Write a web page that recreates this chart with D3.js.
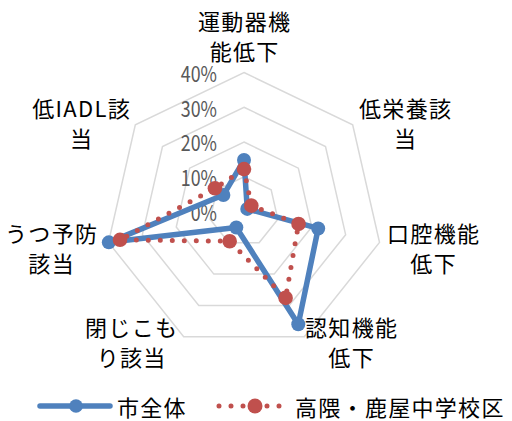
<!DOCTYPE html>
<html>
<head>
<meta charset="utf-8">
<script src="https://cdn.jsdelivr.net/npm/d3@7"></script>
<style>
  html, body { margin: 0; padding: 0; background: #fff; }
  svg { display: block; }
  text { font-family: "Noto Sans CJK JP", "Noto Sans", sans-serif; }
</style>
</head>
<body>
<svg id="chart" width="512" height="421"></svg>
<script>
// Axis labels (each split into two lines), clockwise from the top
const categories = [
  ["運動器機", "能低下"],
  ["低栄養該", "当"],
  ["口腔機能", "低下"],
  ["認知機能", "低下"],
  ["閉じこも", "り該当"],
  ["うつ予防", "該当"],
  ["低IADL該", "当"]
];
// Rates in percent
const cityValues = [14.8, 1.2, 21.9, 36.0, 5.1, 39.9, 7.6];
const districtValues = [12.2, 2.7, 16.1, 27.6, 9.5, 36.6, 10.7];
const seriesNames = ["市全体", "高隈・鹿屋中学校区"];
const tickValues = [0, 10, 20, 30, 40];
const tickLabels = ["0%", "10%", "20%", "30%", "40%"];

const svg = d3.select("#chart");
const cx = 244, cy = 211.5;
const r = d3.scaleLinear().domain([0, 40]).range([0, 139]);
const n = categories.length;
const angle = d3.scaleLinear().domain([0, n]).range([0, 2 * Math.PI]);

const pt = (i, v) => {
  const a = angle(i);
  return [cx + Math.sin(a) * r(v), cy - Math.cos(a) * r(v)];
};

const BLUE = "#4f81bd", RED = "#c0504d";
const FS = 22, LS = 1.3;

// Grid rings
const g = svg.append("g");
tickValues.filter(v => v > 0).forEach(v => {
  const pts = d3.range(n).map(i => pt(i, v));
  g.append("path")
    .attr("d", d3.line().curve(d3.curveLinearClosed)(pts))
    .attr("fill", "none")
    .attr("stroke", "#d9d9d9")
    .attr("stroke-width", 1.5);
});

// Tick labels (narrow)
tickValues.forEach((v, k) => {
  g.append("text")
    .attr("transform", `translate(217,${cy - r(v)}) scale(0.81,1)`)
    .attr("text-anchor", "end")
    .attr("dominant-baseline", "central")
    .attr("font-size", 22)
    .attr("fill", "#595959")
    .text(tickLabels[k]);
});

// Category labels
const labelPos = [
  [244, 20],
  [405, 107],
  [433, 232],
  [351, 326],
  [131, 326],
  [51, 232],
  [81, 107]
];
categories.forEach((lines, i) => {
  const [x, y] = labelPos[i];
  const t = g.append("text")
    .attr("text-anchor", "middle")
    .attr("dominant-baseline", "central")
    .attr("font-size", FS)
    .attr("letter-spacing", LS)
    .attr("fill", "#000");
  lines.forEach((s, j) => {
    t.append("tspan").attr("x", x + LS / 2).attr("y", y + j * 30).text(s);
  });
});

const radarLine = d3.line().curve(d3.curveLinearClosed);

// City-wide series: solid blue
const cityPts = cityValues.map((v, i) => pt(i, v));
svg.append("path")
  .attr("d", radarLine(cityPts))
  .attr("fill", "none")
  .attr("stroke", BLUE)
  .attr("stroke-width", 5.5)
  .attr("stroke-linejoin", "round");
svg.append("g").selectAll("circle").data(cityPts).join("circle")
  .attr("cx", d => d[0]).attr("cy", d => d[1]).attr("r", 7)
  .attr("fill", BLUE);

// District series: red round dots
const distPts = districtValues.map((v, i) => pt(i, v));
svg.append("path")
  .attr("d", radarLine(distPts))
  .attr("fill", "none")
  .attr("stroke", RED)
  .attr("stroke-width", 5)
  .attr("stroke-linecap", "round")
  .attr("stroke-dasharray", "0 12");
svg.append("g").selectAll("circle").data(distPts).join("circle")
  .attr("cx", d => d[0]).attr("cy", d => d[1]).attr("r", 7.3)
  .attr("fill", RED);

// Legend
const ly = 406;
const leg = svg.append("g");
leg.append("line")
  .attr("x1", 40).attr("x2", 110).attr("y1", ly).attr("y2", ly)
  .attr("stroke", BLUE).attr("stroke-width", 5.5).attr("stroke-linecap", "round");
leg.append("circle").attr("cx", 76).attr("cy", ly).attr("r", 6.8).attr("fill", BLUE);
leg.append("text").attr("x", 117).attr("y", ly).attr("dominant-baseline", "central")
  .attr("font-size", FS).attr("letter-spacing", LS).text(seriesNames[0]);

leg.append("line")
  .attr("x1", 219).attr("x2", 283).attr("y1", ly).attr("y2", ly)
  .attr("stroke", RED).attr("stroke-width", 5).attr("stroke-linecap", "round")
  .attr("stroke-dasharray", "0 12");
leg.append("circle").attr("cx", 255).attr("cy", ly).attr("r", 7.5).attr("fill", RED);
leg.append("text").attr("x", 295).attr("y", ly).attr("dominant-baseline", "central")
  .attr("font-size", FS).attr("letter-spacing", LS).text(seriesNames[1]);
</script>
</body>
</html>
